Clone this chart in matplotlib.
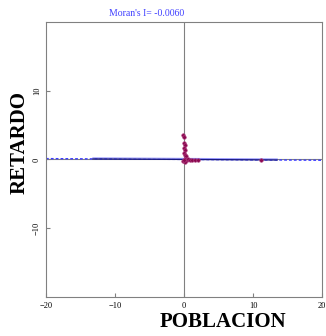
import numpy as np
import matplotlib.pyplot as plt

# Data
pob = [-0.1, -0.05, 0.0, 0.1, 0.0, 0.2, 0.0, 0.1, 0.3,
       0.2, 0.4, 0.6, 0.9, 1.2, 1.6, 2.0, -0.2, 0.1, 0.0, 11.2]
ret = [3.6, 3.3, 2.4, 2.1, 1.6, 1.3, 0.9, 0.7, 0.5,
       0.1, -0.1, 0.0, -0.05, -0.1, -0.1, -0.15, -0.2, -0.4, -0.1, -0.1]
moran = -0.0060
fit_lo, fit_hi = -13.2, 13.5
xticks = [-20, -10, 0, 10, 20]
yticks = [-10, 0, 10]

fig = plt.figure(figsize=(3.26, 3.36), dpi=100)
ax = fig.add_axes([0.141, 0.116, 0.847, 0.819])
ax.set_xlim(-20, 20)
ax.set_ylim(-20, 20)

ax.axvline(0, color='#808080', lw=0.8, zorder=1)
ax.axhline(0, color='#808080', lw=0.8, zorder=1)

# regression line
xs = np.array([-20, 20])
ax.plot(xs, moran * xs, color='#3a3aff', lw=1.0, ls=(0, (2, 1.5)), zorder=2)
xs2 = np.array([fit_lo, fit_hi])
ax.plot(xs2, moran * xs2 + 0.15, color='#9a9aff', lw=0.8, zorder=2)
ax.plot(xs2, moran * xs2, color='#1a1a80', lw=0.9, zorder=3)

ax.plot(pob, ret, 'o', ms=2.6, color='#8b0a50', mec='#b04080', mew=0.4, zorder=4)

for s in ax.spines.values():
    s.set_color('#808080')
    s.set_linewidth(0.8)

ax.set_xticks(xticks)
ax.set_yticks(yticks)
ax.tick_params(direction='in', length=3, color='#808080', labelsize=6)
for lbl in ax.get_xticklabels() + ax.get_yticklabels():
    lbl.set_family('Liberation Serif')
for lbl in ax.get_yticklabels():
    lbl.set_rotation(90)
    lbl.set_va('center')

fig.text(147 / 326, 1 - 13 / 336, "Moran's I= -0.0060", color='#4040ff',
         fontsize=7, family='Liberation Serif', ha='center', va='center')
fig.text(223 / 326, 1 - 322 / 336, 'POBLACION', fontsize=15, weight='bold',
         family='Liberation Serif', ha='center', va='center')
fig.text(20 / 326, 1 - 143 / 336, 'RETARDO', fontsize=15, weight='bold',
         family='Liberation Serif', ha='center', va='center', rotation=90)

plt.savefig('out.png', dpi=100)
